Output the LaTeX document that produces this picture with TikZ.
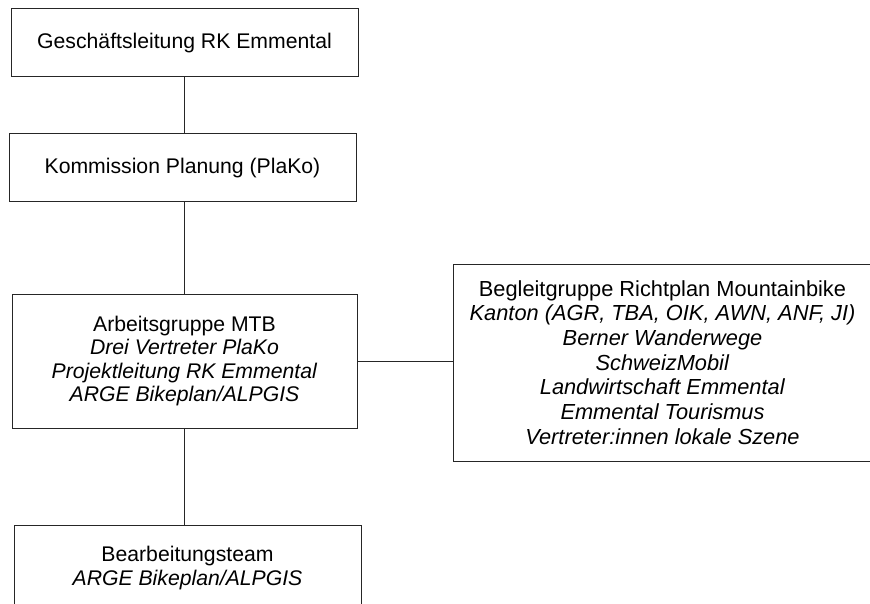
\documentclass[tikz,border=0pt]{standalone}
\usepackage{fontspec}
\setmainfont{Liberation Sans}
\usetikzlibrary{positioning}

\begin{document}
\begin{tikzpicture}[
      x=1pt, y=-1pt,
      font=\fontsize{21.2}{23.3}\selectfont,
      box/.style={draw=black!85, line width=1pt, align=center, inner sep=0pt},
      wide/.style={font=\fontsize{21.8}{24.7}\selectfont},
      link/.style={draw=black!85, line width=1pt},
    ]
    \clip (0,0) rectangle (870,604);
    % --- left column: the line of command ---
    \node[box, minimum width=347pt, minimum height=68pt] (gl) at (184.5,43)
      {Geschäftsleitung RK Emmental};
    \node[box, minimum width=347pt, minimum height=68pt] (plako) at (182.5,168)
      {Kommission Planung (PlaKo)};
    \node[box, minimum width=345pt, minimum height=134pt] (ag) at (184.5,361)
      {Arbeitsgruppe MTB\\\textit{Drei Vertreter PlaKo}\\
       \textit{Projektleitung RK Emmental}\\\textit{ARGE Bikeplan/ALPGIS}};
    \node[box, minimum width=347pt, minimum height=86pt] (bt) at (187.5,568)
      {Bearbeitungsteam\\\textit{ARGE Bikeplan/ALPGIS}};
    \draw[link] (gl.south) -- (gl.south |- plako.north);
    \draw[link] (gl.south |- plako.south) -- (gl.south |- ag.north);
    \draw[link] (gl.south |- ag.south) -- (gl.south |- bt.north);

    % --- right: the accompanying group ---
    \node[box, wide, minimum width=419pt, minimum height=197pt] (bg) at (662.5,362.5)
      {Begleitgruppe Richtplan Mountainbike\\\textit{Kanton (AGR, TBA, OIK, AWN, ANF, JI)}\\
       \textit{Berner Wanderwege}\\\textit{SchweizMobil}\\\textit{Landwirtschaft Emmental}\\
       \textit{Emmental Tourismus}\\\textit{Vertreter:innen lokale Szene}};
    \draw[link] (ag.east) -- (ag.east -| bg.west);
  \end{tikzpicture}
\end{document}
